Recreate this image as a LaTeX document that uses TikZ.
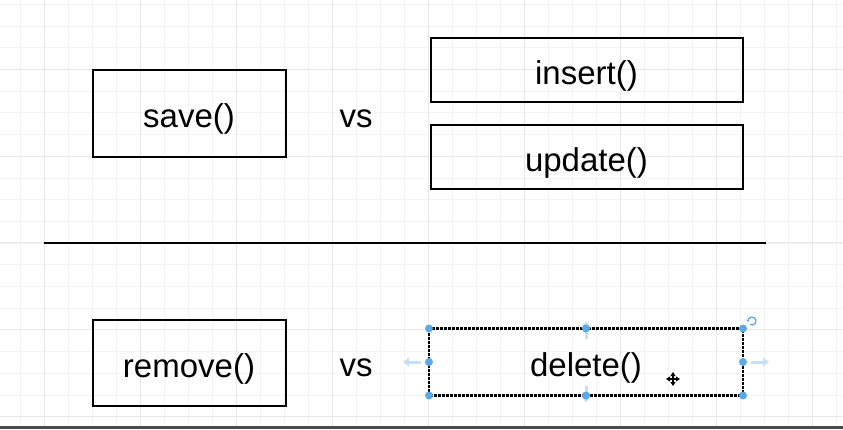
\documentclass[tikz,border=0pt]{standalone}
\usepackage{fontspec}
\setmainfont{Liberation Sans}
\usetikzlibrary{arrows.meta}
\definecolor{gridminor}{HTML}{F3F3F3}
\definecolor{gridmajor}{HTML}{E7E7E7}
\definecolor{handleblue}{HTML}{5AAAE7}
\definecolor{hintblue}{HTML}{C6E1F6}
\definecolor{barcol}{HTML}{4A4A4A}

\begin{document}
\begin{tikzpicture}[x=1pt, y=-1pt]
        \tikzstyle{every node}=[font=\fontsize{33}{38}\selectfont]
        \tikzstyle{method}=[draw, line width=2pt, inner sep=0pt, text height=36pt, text depth=7pt]
        \tikzstyle{wide}=[minimum width=312pt, minimum height=64pt]
        \tikzstyle{narrow}=[minimum width=193pt, minimum height=87pt]
        \tikzstyle{handle}=[fill=handleblue]
        \tikzstyle{hint}=[draw=hintblue, line width=3pt, -{Triangle[length=6pt, width=9pt]}]
        \tikzstyle{movetip}=[line width=1.3pt, {Triangle[length=4pt, width=5pt]}-{Triangle[length=4pt, width=5pt]}]
        \useasboundingbox (0,0) rectangle (843,429);
        % grid
        \foreach \i in {0,...,34} \draw[gridminor, line width=0.8pt] (20+24*\i,0) -- (20+24*\i,429);
        \foreach \i in {0,...,19} \draw[gridminor, line width=0.8pt] (0,4.3+21.7*\i) -- (843,4.3+21.7*\i);
        \foreach \i in {0,...,8} \draw[gridmajor, line width=0.8pt] (44+96*\i,0) -- (44+96*\i,429);
        \foreach \i in {0,...,4} \draw[gridmajor, line width=0.8pt] (0,69.2+86.8*\i) -- (843,69.2+86.8*\i);
        % upper row
        \node [method, narrow] (save) at (189,113) {save()};
        \node [anchor=base] (vsa) at (356,127) {vs};
        \node [method, wide] (insert) at (586.5,69.5) {insert()};
        \node [method, wide] (update) at (586.5,156.5) {update()};
        % divider
        \coordinate (divl) at (44,243);
        \coordinate (divr) at (766,243);
        \draw [line width=2pt] (divl) -- (divr);
        % lower row
        \node [method, narrow, minimum height=86pt] (remove) at (189,362.5) {remove()};
        \node [anchor=base] (vsb) at (356,376.5) {vs};
        \node [method, wide, minimum height=65pt, draw=none] (delete) at (586,362) {delete()};
        \draw [line width=2.2pt, dash pattern=on 3pt off 1pt] (delete.north west) rectangle (delete.south east);
        % selection handles
        \draw [hint] ([yshift=-10pt]delete.north) -- ++(0,-17);
        \draw [hint] ([yshift=10pt]delete.south) -- ++(0,17);
        \draw [hint] ([xshift=-8pt]delete.west) -- ++(-18,0);
        \draw [hint] ([xshift=8pt]delete.east) -- ++(18,0);
        \foreach \a in {north west, north, north east, east, south east, south, south west, west}
            \fill [handle] (delete.\a) circle (4);
        \draw [handleblue, line width=1.3pt, -{Stealth[length=2.5pt]}] (752,321) ++(120:4) arc (120:-200:4);
        % cursor
        \draw [movetip] (666,379) -- (680,379);
        \draw [movetip] (673,372) -- (673,386);
        % bottom bar
        \fill [barcol] (0,425.5) rectangle (843,429);
\end{tikzpicture}
\end{document}
